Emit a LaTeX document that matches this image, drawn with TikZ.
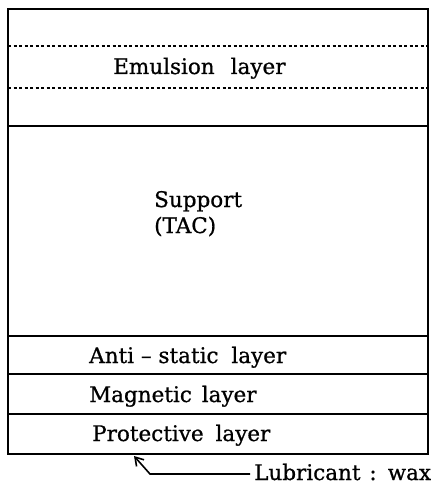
\documentclass[tikz,border=0pt]{standalone}
\usepackage{fontspec}
\setmainfont{DejaVu Serif}
\newfontfamily\lblfont{DejaVu Serif}[FakeBold=0.8]
\usetikzlibrary{arrows.meta}
\begin{document}
\begin{tikzpicture}[x=1pt,y=-1pt,
  frame/.style={line width=1.6pt},
  dotline/.style={line width=1.3pt, dash pattern=on 3pt off 2.5pt},
  lbl/.style={anchor=base west, inner sep=0pt, font=\lblfont\fontsize{21.5}{24}\selectfont}]
\useasboundingbox (0,0) rectangle (438,484);
\draw[frame] (8,9) rectangle (428,454);
\draw[frame] (8,126) -- (428,126);
\draw[frame] (8,336) -- (428,336);
\draw[frame] (8,374) -- (428,374);
\draw[frame] (8,414) -- (428,414);
\draw[dotline] (8,46) -- (428,46);
\draw[dotline] (8,88) -- (428,88);
\node[lbl] (em) at (113,74) {Emulsion\hspace{16pt}layer};
\node[lbl] (sup) at (154,207) {Support};
\node[lbl] (tac) at (154,233) {(TAC)};
\node[lbl] (anti) at (89,363) {Anti – static \hspace{6pt}layer};
\node[lbl] (mag) at (89,402) {Magnetic \hspace{3pt}layer};
\node[lbl] (prot) at (92,441) {Protective \hspace{5pt}layer};
\node[lbl] (lub) at (254,480) {Lubricant \hspace{2pt}: \hspace{2pt}wax};
\coordinate (tip) at (134,456);
\draw[line width=1.6pt, -{Straight Barb[length=8pt,width=10pt]}] (250,474) -- (150,474) -- (tip);
\end{tikzpicture}
\end{document}
